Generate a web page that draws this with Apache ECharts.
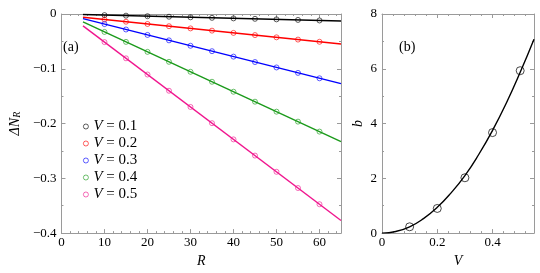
<!DOCTYPE html>
<html><head><meta charset="utf-8">
<script src="https://cdn.jsdelivr.net/npm/echarts@6/dist/echarts.min.js"></script>
<style>html,body{margin:0;padding:0;background:#fff}#c{width:540px;height:273px}</style>
</head><body><div id="c"></div>
<script>
// ---- data (panel a) ----
const vLabels = ['0.1', '0.2', '0.3', '0.4', '0.5'];
const seriesColors = ['#000000', '#ff0000', '#0000ff', '#1a9a1a', '#f0168e'];
const rMarks = [10, 15, 20, 25, 30, 35, 40, 45, 50, 55, 60];
const rLine = [5, 65];
const dN_V01 = [-0.002, -0.003, -0.004, -0.005, -0.006, -0.007, -0.008, -0.0088, -0.0098, -0.0108, -0.0118];
const dN_V02 = [-0.0101, -0.0141, -0.0182, -0.0223, -0.0263, -0.0304, -0.0345, -0.0385, -0.0426, -0.0467, -0.0507];
const dN_V03 = [-0.0184, -0.0283, -0.0382, -0.0481, -0.058, -0.0679, -0.0778, -0.0877, -0.0976, -0.1075, -0.1174];
const dN_V04 = [-0.0327, -0.0509, -0.0691, -0.0873, -0.1055, -0.1237, -0.1419, -0.1601, -0.1783, -0.1965, -0.2147];
const dN_V05 = [-0.0513, -0.0809, -0.1105, -0.1401, -0.1697, -0.1993, -0.2289, -0.2585, -0.2881, -0.3177, -0.3473];
const fit_V01 = [-0.001, -0.0127];
const fit_V02 = [-0.006, -0.0548];
const fit_V03 = [-0.0085, -0.127];
const fit_V04 = [-0.0145, -0.2329];
const fit_V05 = [-0.0217, -0.377];
// ---- data (panel b) ----
const vPoints = [0.1, 0.2, 0.3, 0.4, 0.5];
const bPoints = [0.23, 0.9, 2.02, 3.67, 5.93];
const vCurve = [0, 0.05, 0.1, 0.15, 0.2, 0.25, 0.3, 0.35, 0.4, 0.45, 0.5, 0.55];
const bCurve = [0, 0.06, 0.23, 0.53, 0.94, 1.47, 2.1, 2.87, 3.75, 4.75, 5.87, 7.08];

const marks = [dN_V01, dN_V02, dN_V03, dN_V04, dN_V05];
const fits = [fit_V01, fit_V02, fit_V03, fit_V04, fit_V05];
const FONT = 'Liberation Serif';
const AX = '#9a9a9a';

function zip(xs, ys) { return xs.map((x, i) => [x, ys[i]]); }

function axisCommon(showLabels) {
  return {
    axisLine: { show: true, onZero: false, lineStyle: { color: AX, width: 1 } },
    axisTick: { show: true, inside: true, length: 4, lineStyle: { color: AX } },
    minorTick: { show: true, length: 2, lineStyle: { color: AX } },
    splitLine: { show: false },
    axisLabel: { show: showLabels, color: '#000', fontFamily: FONT, fontSize: 13 }
  };
}

const series = [];
vLabels.forEach((v, i) => {
  series.push({
    type: 'line', name: 'fit' + v, xAxisIndex: 0, yAxisIndex: 0,
    data: zip(rLine, fits[i]), showSymbol: false, symbol: 'none',
    lineStyle: { color: seriesColors[i], width: 1.4 }, silent: true, z: 2
  });
  series.push({
    type: 'scatter', name: v, xAxisIndex: 0, yAxisIndex: 0,
    data: zip(rMarks, marks[i]), symbol: 'circle', symbolSize: 5,
    itemStyle: { color: 'rgba(255,255,255,0)', borderColor: seriesColors[i], borderWidth: 0.8 }, z: 3
  });
});
series.push({
  type: 'line', name: 'curve', xAxisIndex: 2, yAxisIndex: 2,
  data: zip(vCurve, bCurve), smooth: true, showSymbol: false, symbol: 'none',
  lineStyle: { color: '#000', width: 1.4 }
});
series.push({
  type: 'scatter', name: 'bpts', xAxisIndex: 2, yAxisIndex: 2,
  data: zip(vPoints, bPoints), symbol: 'circle', symbolSize: 8,
  itemStyle: { color: 'rgba(255,255,255,0)', borderColor: '#000', borderWidth: 0.9 }
});

const option = {
  animation: false,
  backgroundColor: '#fff',
  grid: [
    { left: 50, top: 14, width: 291, height: 221 },
    { left: 382, top: 14, width: 152, height: 221 }
  ],
  xAxis: [
    Object.assign(axisCommon(true), { gridIndex: 0, type: 'value', min: 0, max: 65, interval: 10, position: 'bottom',
      minorTick: { show: true, splitNumber: 5, length: 2, lineStyle: { color: AX } },
      axisLabel: { color: '#000', fontFamily: FONT, fontSize: 13, margin: 3, showMaxLabel: false },
      name: 'R', nameLocation: 'middle', nameGap: 17,
      nameTextStyle: { fontFamily: FONT, fontStyle: 'italic', fontSize: 14, color: '#000' } }),
    Object.assign(axisCommon(false), { gridIndex: 0, type: 'value', min: 0, max: 65, interval: 10, position: 'top',
      minorTick: { show: true, splitNumber: 5, length: 2, lineStyle: { color: AX } } }),
    Object.assign(axisCommon(true), { gridIndex: 1, type: 'value', min: 0, max: 0.55, interval: 0.2, position: 'bottom',
      minorTick: { show: true, splitNumber: 5, length: 2, lineStyle: { color: AX } },
      axisLabel: { color: '#000', fontFamily: FONT, fontSize: 13, margin: 3, showMaxLabel: false },
      name: 'V', nameLocation: 'middle', nameGap: 17,
      nameTextStyle: { fontFamily: FONT, fontStyle: 'italic', fontSize: 14, color: '#000' } }),
    Object.assign(axisCommon(false), { gridIndex: 1, type: 'value', min: 0, max: 0.55, interval: 0.2, position: 'top',
      minorTick: { show: true, splitNumber: 5, length: 2, lineStyle: { color: AX } } })
  ],
  yAxis: [
    Object.assign(axisCommon(true), { gridIndex: 0, type: 'value', min: -0.4, max: 0, interval: 0.1, position: 'left',
      minorTick: { show: true, splitNumber: 2, length: 2, lineStyle: { color: AX } },
      axisLabel: { color: '#000', fontFamily: FONT, fontSize: 13, margin: 5,
        formatter: v => (v === 0 ? '0' : '\u2212' + Math.abs(v).toFixed(1)) },
      name: '{n|\u0394N}{s|R}', nameLocation: 'middle', nameGap: 31, nameRotate: 90,
      nameTextStyle: { color: '#000', rich: {
        n: { fontFamily: FONT, fontStyle: 'italic', fontSize: 14, color: '#000' },
        s: { fontFamily: FONT, fontStyle: 'italic', fontSize: 10, color: '#000', verticalAlign: 'bottom', padding: [4, 0, 0, 0] } } } }),
    Object.assign(axisCommon(false), { gridIndex: 0, type: 'value', min: -0.4, max: 0, interval: 0.1, position: 'right',
      minorTick: { show: true, splitNumber: 2, length: 2, lineStyle: { color: AX } } }),
    Object.assign(axisCommon(true), { gridIndex: 1, type: 'value', min: 0, max: 8, interval: 2, position: 'left',
      minorTick: { show: true, splitNumber: 2, length: 2, lineStyle: { color: AX } },
      axisLabel: { color: '#000', fontFamily: FONT, fontSize: 13, margin: 5 },
      name: 'b', nameLocation: 'middle', nameGap: 17, nameRotate: 90,
      nameTextStyle: { fontFamily: FONT, fontStyle: 'italic', fontSize: 14, color: '#000' } }),
    Object.assign(axisCommon(false), { gridIndex: 1, type: 'value', min: 0, max: 8, interval: 2, position: 'right',
      minorTick: { show: true, splitNumber: 2, length: 2, lineStyle: { color: AX } } })
  ],
  legend: {
    data: vLabels, orient: 'vertical', left: 78, top: 114,
    icon: 'circle', itemWidth: 5, itemHeight: 5, itemGap: 2,
    itemStyle: { color: 'rgba(255,255,255,0)', borderWidth: 0.8 },
    formatter: name => '{i|V} = ' + name,
    textStyle: { fontFamily: FONT, fontSize: 15, color: '#000', lineHeight: 14.6,
      rich: { i: { fontFamily: FONT, fontStyle: 'italic', fontSize: 15, color: '#000', lineHeight: 14.6 } } }
  },
  graphic: [
    { type: 'text', left: 63, top: 40, style: { text: '(a)', font: '14px "Liberation Serif"', fill: '#000' } },
    { type: 'text', left: 399, top: 40, style: { text: '(b)', font: '14px "Liberation Serif"', fill: '#000' } }
  ],
  series: series
};
const chart = echarts.init(document.getElementById('c'), null, { renderer: 'canvas' });
chart.setOption(option);
</script>
</body></html>
